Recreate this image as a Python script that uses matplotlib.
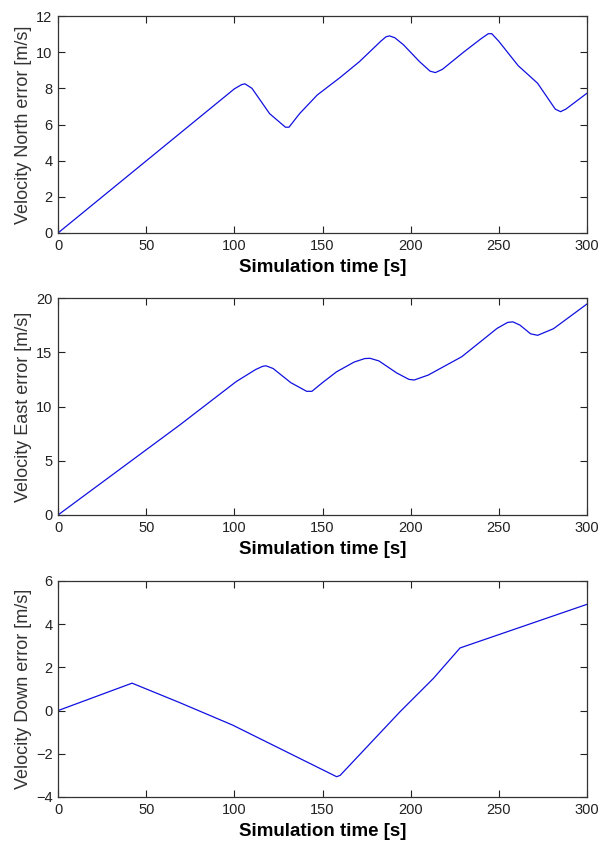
import matplotlib
matplotlib.use("Agg")
import matplotlib.pyplot as plt

plt.rcParams['font.family'] = ['Liberation Sans', 'DejaVu Sans']

# valeurs
t_north = [0, 69, 100, 104, 106, 110, 120, 129, 131, 137, 147, 160, 171, 183, 186, 188, 191, 196, 205, 211, 214, 218, 230, 240, 244, 246, 250, 261, 272, 282, 285, 288, 300]
v_north = [0, 5.5, 7.97, 8.2, 8.25, 8.0, 6.6, 5.85, 5.85, 6.6, 7.63, 8.6, 9.48, 10.6, 10.85, 10.9, 10.8, 10.4, 9.48, 8.95, 8.87, 9.05, 10.0, 10.75, 11.02, 11.02, 10.6, 9.25, 8.28, 6.85, 6.71, 6.85, 7.73]

t_east = [0, 69, 101, 112, 116, 118, 122, 132, 141, 144, 150, 158, 168, 174, 177, 182, 192, 199, 202, 210, 229, 249, 255, 258, 262, 268, 272, 281, 300]
v_east = [0, 8.29, 12.29, 13.4, 13.7, 13.75, 13.5, 12.2, 11.4, 11.4, 12.2, 13.2, 14.1, 14.42, 14.44, 14.2, 13.1, 12.5, 12.44, 12.9, 14.59, 17.2, 17.75, 17.8, 17.5, 16.7, 16.56, 17.17, 19.45]

t_down = [0, 42, 69, 99, 158, 160, 194, 213, 228, 300]
v_down = [0, 1.27, 0.37, -0.67, -3.06, -3.0, -0.05, 1.5, 2.9, 4.92]

y_labels = ["Velocity North error [m/s]", "Velocity East error [m/s]", "Velocity Down error [m/s]"]
y_limits = [(0, 12), (0, 20), (-4, 6)]
y_ticks = [[0, 2, 4, 6, 8, 10, 12], [0, 5, 10, 15, 20], [-4, -2, 0, 2, 4, 6]]
x_ticks = [0, 50, 100, 150, 200, 250, 300]

fig = plt.figure(figsize=(6.02, 8.51), dpi=100)

# positions des axes en pixels (haut, bas)
W, H = 602, 851
panels = [(16, 233), (298, 515), (581, 797)]
series = [(t_north, v_north), (t_east, v_east), (t_down, v_down)]

for i, (top, bottom) in enumerate(panels):
    ax = fig.add_axes([58 / W, (H - bottom) / H, 529 / W, (bottom - top) / H])
    t, v = series[i]
    ax.plot(t, v, color='#1010e0', linewidth=0.9)
    ax.set_xlim(0, 300)
    ax.set_ylim(*y_limits[i])
    ax.set_xticks(x_ticks)
    ax.set_yticks(y_ticks[i])
    ax.tick_params(direction='in', top=True, right=True, length=5, width=0.8,
                   labelsize=10.5, colors='#222222', pad=4)
    for s in ax.spines.values():
        s.set_color('#333333')
        s.set_linewidth(0.9)
    ax.set_ylabel(y_labels[i], fontsize=13, color='#333333', labelpad=3)
    ax.set_xlabel("Simulation time [s]", fontsize=13.5, fontweight='bold', labelpad=5)

fig.savefig("out.png", dpi=100)
